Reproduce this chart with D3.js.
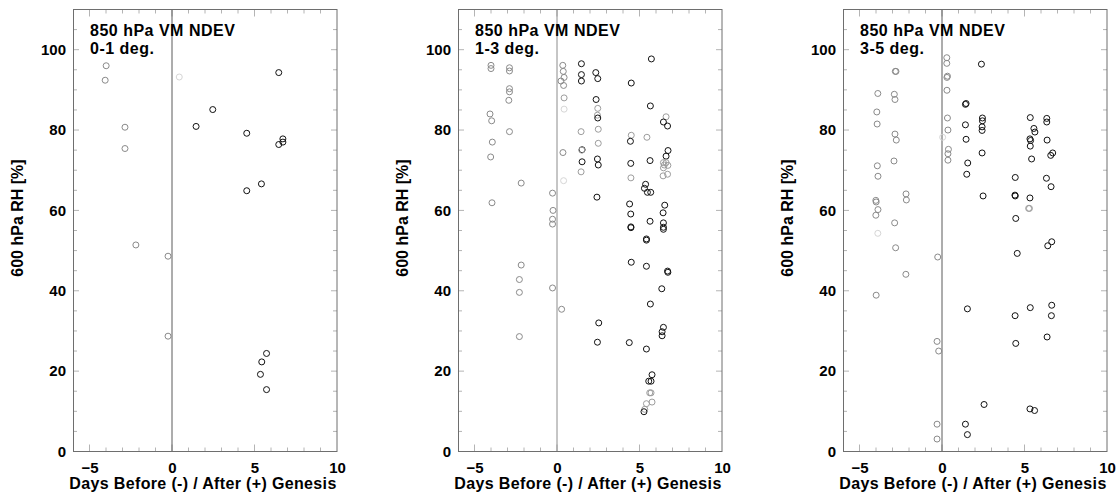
<!DOCTYPE html>
<html>
<head>
<meta charset="utf-8">
<script src="https://cdn.jsdelivr.net/npm/d3@7"></script>
<style>
  html, body { margin: 0; padding: 0; background: #fff; }
  svg { display: block; }
  text { font-family: "Liberation Sans", Arial, Helvetica, sans-serif; fill: #000; }
</style>
</head>
<body>
<svg id="chart" width="1120" height="499"></svg>
<script>
// Axis ranges and tick labels
const xDomain = [-6, 10];
const yDomain = [0, 110];
const xTickLabels = [-5, 0, 5, 10];
const yTickLabels = [0, 20, 40, 60, 80, 100];

// Panel titles
const titleLine1 = "850 hPa VM NDEV";
const panelBins = ["0-1 deg.", "1-3 deg.", "3-5 deg."];
const xTitle = "Days Before (-) / After (+) Genesis";
const yTitle = "600 hPa RH [%]";

// Samples: [days relative to genesis, 600 hPa RH %, tone]
// tone 0 = black, 1 = grey, 2 = light grey, 3 = faint
const samples01 = [
  [-3.99, 96.0, 1], [-4.05, 92.4, 1], [-2.85, 80.7, 1], [-2.85, 75.4, 1],
  [-2.19, 51.4, 1], [-0.24, 48.6, 1], [-0.24, 28.7, 1], [0.44, 93.2, 3],
  [6.47, 94.3, 0], [2.47, 85.1, 0], [1.46, 80.9, 0], [4.53, 79.2, 0],
  [6.47, 76.4, 0], [6.72, 77.8, 0], [6.72, 77.0, 0], [5.42, 66.6, 0],
  [4.53, 64.9, 0], [5.73, 24.4, 0], [5.44, 22.3, 0], [5.36, 19.2, 0],
  [5.73, 15.4, 0]
];

const samples13 = [
  [-4.0, 96.1, 1], [-4.0, 95.3, 1], [-2.88, 95.5, 1], [-2.88, 94.7, 1],
  [-2.88, 90.3, 1], [-2.88, 89.5, 1], [-2.92, 87.4, 1], [-4.06, 84.0, 1],
  [-3.96, 82.3, 1], [-2.88, 79.6, 1], [-3.92, 77.0, 1], [-4.02, 73.3, 1],
  [-2.17, 66.8, 1], [-3.94, 61.9, 1], [-0.27, 64.3, 1], [-0.24, 60.0, 1],
  [-0.27, 57.8, 1], [-0.27, 56.6, 1], [-2.17, 46.4, 1], [-2.28, 42.8, 1],
  [-2.28, 39.6, 1], [-2.28, 28.6, 1], [-0.27, 40.7, 1],
  [0.35, 96.1, 1], [0.38, 94.6, 1], [0.43, 93.1, 1], [0.24, 92.2, 1],
  [0.40, 91.1, 1], [0.43, 88.0, 2], [0.43, 85.2, 3], [0.36, 74.4, 1],
  [0.40, 67.4, 3], [0.28, 35.4, 1],
  [1.48, 96.5, 0], [1.48, 93.8, 0], [1.48, 92.2, 0], [1.46, 79.6, 2],
  [1.52, 75.1, 0], [1.50, 75.0, 2], [1.52, 72.1, 0], [1.46, 69.6, 2],
  [2.35, 94.3, 0], [2.47, 92.8, 0], [2.37, 87.6, 0], [2.47, 85.4, 2],
  [2.45, 83.7, 2], [2.47, 83.0, 0], [2.50, 80.2, 2], [2.50, 76.7, 2],
  [2.45, 72.8, 0], [2.50, 71.3, 0], [2.42, 63.3, 0], [2.53, 32.0, 0],
  [2.45, 27.2, 0],
  [4.50, 91.7, 0], [4.50, 78.7, 2], [4.45, 77.2, 0], [4.47, 71.7, 0],
  [4.48, 68.1, 2], [4.40, 61.6, 0], [4.47, 59.1, 0], [4.48, 55.9, 0],
  [4.48, 55.7, 0], [4.50, 47.1, 0], [4.38, 27.1, 0],
  [5.72, 97.7, 0], [5.66, 86.0, 0], [5.45, 78.2, 2], [5.64, 72.4, 0],
  [5.37, 66.5, 0], [5.30, 65.5, 0], [5.48, 64.5, 0], [5.68, 64.5, 0],
  [5.64, 57.3, 0], [5.42, 52.9, 0], [5.42, 52.6, 0], [5.42, 46.1, 0],
  [5.66, 36.7, 0], [5.42, 25.5, 0], [5.76, 19.1, 0], [5.56, 17.5, 0],
  [5.70, 17.5, 0], [5.62, 14.6, 2], [5.70, 14.6, 2], [5.76, 12.3, 2],
  [5.42, 11.9, 2], [5.32, 10.5, 2], [5.27, 9.9, 0],
  [6.61, 83.3, 2], [6.45, 82.0, 0], [6.70, 81.0, 0], [6.73, 74.9, 0],
  [6.61, 73.5, 0], [6.45, 71.9, 2], [6.61, 71.9, 2], [6.50, 71.3, 2],
  [6.72, 71.2, 2], [6.45, 70.6, 2], [6.43, 68.6, 2], [6.70, 69.0, 2],
  [6.53, 61.3, 0], [6.43, 59.4, 0], [6.45, 56.9, 0], [6.45, 55.8, 0],
  [6.45, 55.3, 0], [6.70, 44.9, 0], [6.72, 44.6, 0], [6.35, 40.5, 0],
  [6.45, 30.9, 0], [6.37, 29.8, 0], [6.37, 28.8, 0]
];

const samples35 = [
  [-3.89, 89.1, 1], [-3.95, 84.5, 1], [-3.93, 81.5, 1], [-3.92, 71.1, 1],
  [-3.88, 68.5, 1], [-4.01, 62.5, 1], [-3.99, 62.1, 1], [-3.88, 60.2, 1],
  [-4.01, 58.8, 1], [-3.89, 54.3, 3], [-2.83, 94.6, 1], [-2.79, 94.6, 1],
  [-2.89, 88.9, 1], [-2.85, 87.6, 1], [-2.85, 79.0, 1], [-2.77, 77.5, 1],
  [-2.91, 72.3, 1], [-2.18, 64.1, 1], [-2.16, 62.6, 1], [-2.87, 56.9, 1],
  [-2.81, 50.7, 1], [-0.26, 48.4, 1], [-2.19, 44.1, 1], [-3.99, 38.9, 1],
  [-0.30, 27.4, 1], [-0.20, 25.0, 1], [-0.30, 6.8, 1], [-0.30, 3.1, 1],
  [0.29, 98.0, 1], [0.29, 96.6, 1], [0.33, 93.4, 1], [0.30, 93.1, 1],
  [0.30, 89.9, 1], [0.33, 83.0, 1], [0.36, 80.0, 1], [0.04, 78.2, 3],
  [0.39, 75.2, 1], [0.36, 74.1, 1], [0.36, 72.5, 1],
  [2.39, 96.4, 0], [1.42, 86.4, 0], [1.46, 86.6, 0], [1.42, 81.3, 0],
  [1.46, 77.7, 0], [1.56, 71.8, 0], [1.50, 69.0, 0], [2.45, 83.0, 0],
  [2.45, 82.3, 0], [2.43, 80.8, 0], [2.43, 79.9, 0], [2.43, 74.3, 0],
  [2.49, 63.6, 0], [4.44, 68.2, 0], [4.42, 63.8, 0], [4.44, 63.6, 0],
  [4.47, 58.0, 0], [5.35, 83.1, 0], [5.57, 80.4, 0], [5.63, 79.5, 0],
  [5.33, 77.8, 0], [5.37, 77.4, 0], [5.35, 76.0, 0], [5.43, 72.8, 0],
  [5.33, 63.1, 0], [5.25, 60.5, 2], [5.30, 60.5, 2], [6.35, 82.9, 0],
  [6.35, 82.0, 0], [6.37, 77.5, 0], [6.59, 73.7, 0], [6.71, 74.3, 0],
  [6.33, 68.0, 0], [6.61, 65.9, 0], [6.41, 51.2, 0], [6.65, 52.2, 0],
  [4.56, 49.3, 0], [1.54, 35.5, 0], [5.35, 35.8, 0], [4.43, 33.8, 0],
  [6.65, 36.4, 0], [6.63, 33.8, 0], [6.37, 28.5, 0], [4.47, 26.9, 0],
  [2.55, 11.7, 0], [5.33, 10.6, 0], [5.61, 10.2, 0], [1.42, 6.8, 0],
  [1.54, 4.2, 0]
];

const panelSamples = [samples01, samples13, samples35];
const toneColors = ["#111111", "#8a8a8a", "#9d9d9d", "#d6d6d6"];

// Layout
const plotTop = 9.5, plotBottom = 451.5, plotWidth = 264;
const panelLefts = [73, 458, 843];
const fontStack = '"Liberation Sans", Arial, Helvetica, sans-serif';

const svg = d3.select("#chart");

panelLefts.forEach((left, i) => {
  const x = d3.scaleLinear().domain(xDomain).range([left, left + plotWidth]);
  const y = d3.scaleLinear().domain(yDomain).range([plotBottom, plotTop]);
  const g = svg.append("g");

  // Inward tick marks (minor every 1 day / 5 %, major every 5 days / 20 %)
  const tickColor = "#b4b4b4";
  const xMinor = d3.range(xDomain[0] + 1, xDomain[1], 1);
  xMinor.forEach(v => {
    const len = v % 5 === 0 ? 7 : 4;
    g.append("line").attr("x1", x(v)).attr("x2", x(v))
      .attr("y1", plotBottom).attr("y2", plotBottom - len)
      .attr("stroke", tickColor).attr("stroke-width", 1);
    g.append("line").attr("x1", x(v)).attr("x2", x(v))
      .attr("y1", plotTop).attr("y2", plotTop + len)
      .attr("stroke", tickColor).attr("stroke-width", 1);
  });
  const yMinor = d3.range(5, yDomain[1], 5);
  yMinor.forEach(v => {
    const len = v % 20 === 0 ? 6 : 4;
    g.append("line").attr("x1", left).attr("x2", left + len)
      .attr("y1", y(v)).attr("y2", y(v))
      .attr("stroke", tickColor).attr("stroke-width", 1);
    g.append("line").attr("x1", left + plotWidth).attr("x2", left + plotWidth - len)
      .attr("y1", y(v)).attr("y2", y(v))
      .attr("stroke", tickColor).attr("stroke-width", 1);
  });

  // Axis labels through d3 axes (tick lines hidden, labels only)
  const xAxis = d3.axisBottom(x).tickValues(xTickLabels).tickSize(0).tickPadding(0)
    .tickFormat(d3.format("d"));
  const xg = g.append("g").attr("transform", `translate(0,${plotBottom})`).call(xAxis);
  xg.select(".domain").remove();
  xg.selectAll("text")
    .attr("y", 21.5).attr("dy", null)
    .style("font-size", "15px").style("font-weight", "bold")
    .style("font-family", fontStack).attr("fill", "#000");

  const yAxis = d3.axisLeft(y).tickValues(yTickLabels).tickSize(0).tickPadding(7)
    .tickFormat(d3.format("d"));
  const yg = g.append("g").attr("transform", `translate(${left},0)`).call(yAxis);
  yg.select(".domain").remove();
  yg.selectAll("text")
    .style("font-size", "15px").style("font-weight", "bold")
    .style("font-family", fontStack).attr("fill", "#000");

  // Genesis line
  g.append("line").attr("x1", x(0)).attr("x2", x(0))
    .attr("y1", plotTop).attr("y2", plotBottom)
    .attr("stroke", i === 1 ? "#8c8c8c" : "#5a5a5a").attr("stroke-width", 1);

  // Frame
  g.append("rect").attr("x", left + 0.5).attr("y", plotTop)
    .attr("width", plotWidth - 0.5).attr("height", plotBottom - plotTop)
    .attr("fill", "none").attr("stroke", "#6e6e6e").attr("stroke-width", 1);

  // Samples
  g.append("g").selectAll("circle")
    .data(panelSamples[i])
    .join("circle")
    .attr("cx", d => x(d[0]))
    .attr("cy", d => y(d[1]))
    .attr("r", 3)
    .attr("fill", "none")
    .attr("stroke", d => toneColors[d[2]])
    .attr("stroke-width", 1);

  // Panel title
  const t = g.append("text").attr("x", left + 17).attr("y", 36)
    .style("font-size", "16px").style("font-weight", "bold")
    .style("letter-spacing", "0.5px");
  t.append("tspan").attr("x", left + 17).attr("dy", 0).text(titleLine1);
  t.append("tspan").attr("x", left + 17).attr("dy", 18).text(panelBins[i]);

  // Axis titles
  g.append("text")
    .attr("x", left + plotWidth / 2 - 2).attr("y", 489)
    .attr("text-anchor", "middle")
    .style("font-size", "16px").style("font-weight", "bold")
    .style("letter-spacing", "0.35px")
    .text(xTitle);

  g.append("text")
    .attr("transform", `translate(${left - 50},218) rotate(-90)`)
    .attr("text-anchor", "middle")
    .style("font-size", "16px").style("font-weight", "bold")
    .text(yTitle);
});
</script>
</body>
</html>
